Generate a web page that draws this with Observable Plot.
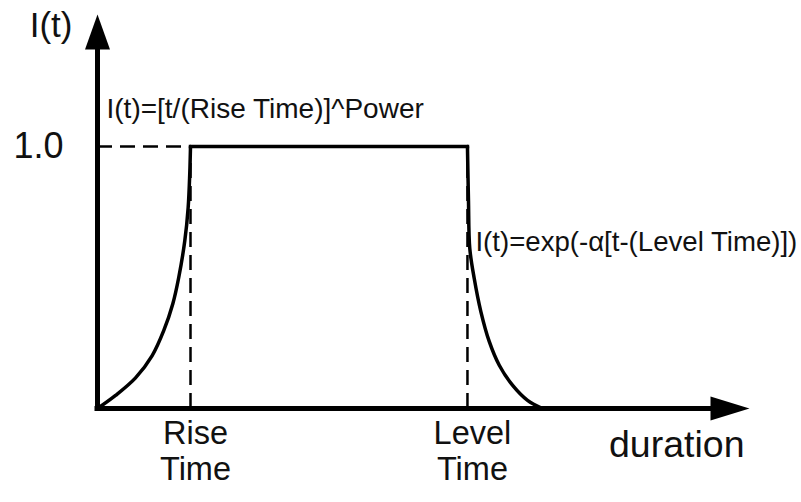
<!DOCTYPE html>
<html>
<head>
<meta charset="utf-8">
<script src="https://cdn.jsdelivr.net/npm/d3@7"></script>
<script src="https://cdn.jsdelivr.net/npm/@observablehq/plot@0.6"></script>
<style>
  html, body { margin: 0; padding: 0; background: #fff; }
  #chart svg { display: block; }
</style>
</head>
<body>
<div id="chart"></div>
<script>
// ---- Data ----
const riseTime = 1.0;
const levelTime = 3.978;

// rising segment: I(t) = [t/(Rise Time)]^Power (as drawn)
const riseT = [0, 0.194, 0.409, 0.588, 0.713, 0.810, 0.874, 0.939, 0.975, 0.992, 1.0];
const riseI = [0, 0.050, 0.117, 0.202, 0.298, 0.400, 0.501, 0.641, 0.768, 0.897, 1.0];

// level segment
const levelT = [1.0, 3.978];
const levelI = [1.0, 1.0];

// decay segment: I(t) = exp(-α[t-(Level Time)]) (as drawn)
const decayT = [3.978, 3.989, 4.003, 4.051, 4.122, 4.212, 4.320, 4.462, 4.624, 4.785];
const decayI = [1.0, 0.794, 0.611, 0.496, 0.370, 0.256, 0.165, 0.089, 0.031, 0];

// labels
const yTitle = ["I(t)"];
const xTitle = ["duration"];
const yTickValues = [1.0];
const yTickLabels = ["1.0"];
const xTickValues = [riseTime, levelTime];
const xTickLabels = ["Rise\nTime", "Level\nTime"];
const formulas = ["I(t)=[t/(Rise Time)]^Power", "I(t)=exp(-α[t-(Level Time)])"];

// domains
const xDomain = [0, 7];
const yDomain = [0, 1.5];

// ---- Build ----
const toRows = (T, I) => T.map((t, i) => ({t, I: I[i]}));
const rise = toRows(riseT, riseI);
const level = toRows(levelT, levelI);
const decay = toRows(decayT, decayI);

const arrowUp = {draw(ctx) { ctx.moveTo(0, -1); ctx.lineTo(-12.5, 34); ctx.lineTo(12.5, 34); ctx.closePath(); }};
const arrowRight = {draw(ctx) { ctx.moveTo(0, -1); ctx.lineTo(-12, 38); ctx.lineTo(12, 38); ctx.closePath(); }};

const ink = "#000";
const textInk = "#111";
const dash = {stroke: ink, strokeWidth: 2.5, strokeDasharray: "15,8"};
const profile = {x: "t", y: "I", stroke: ink, strokeWidth: 3.5};

const chart = Plot.plot({
  width: 801,
  height: 502,
  marginLeft: 97,
  marginRight: 53,
  marginTop: 15,
  marginBottom: 94,
  x: {domain: xDomain, axis: null},
  y: {domain: yDomain, axis: null},
  style: {fontFamily: "'Liberation Sans', Arial, sans-serif", background: "#fff", overflow: "visible", color: textInk},
  marks: [
    // dashed guides
    Plot.ruleY(yTickValues, {y: d => d, x1: 0, x2: riseTime, ...dash}),
    Plot.ruleX(xTickValues, {x: d => d, y1: 0, y2: 1.0, ...dash}),
    // the intensity profile
    Plot.line(rise, {...profile, curve: "catmull-rom"}),
    Plot.line(decay, {...profile, curve: "catmull-rom"}),
    Plot.line(level, {...profile, strokeLinecap: "square"}),
    // axes with arrowheads
    Plot.ruleX([0], {stroke: ink, strokeWidth: 5, insetTop: 26, strokeLinecap: "square"}),
    Plot.ruleY([0], {stroke: ink, strokeWidth: 5, insetRight: 30, strokeLinecap: "square"}),
    Plot.dot([0], {x: 0, y: yDomain[1], symbol: arrowUp, fill: ink, stroke: null}),
    Plot.dot([0], {x: xDomain[1], y: 0, symbol: arrowRight, fill: ink, stroke: null, rotate: 90}),
    // axis titles
    Plot.text(yTitle, {x: 0, y: yDomain[1], text: d => d, textAnchor: "end", lineAnchor: "top", dx: -25, dy: -3, fontSize: 35, fill: textInk}),
    Plot.text(xTitle, {x: xDomain[1], y: 0, text: d => d, textAnchor: "end", lineAnchor: "bottom", dx: -4, dy: 48, fontSize: 37.5, fill: textInk}),
    // tick labels
    Plot.text(yTickLabels, {x: 0, y: (d, i) => yTickValues[i], text: d => d, textAnchor: "end", dx: -34, fontSize: 36, fill: textInk}),
    Plot.text(xTickLabels, {x: (d, i) => xTickValues[i], y: 0, text: d => d, textAnchor: "middle", lineAnchor: "top", lineHeight: 1.13, dx: 5, dy: 9, fontSize: 32.5, fill: textInk}),
    // formulas
    Plot.text([formulas[0]], {x: 0, y: 1.0, text: d => d, textAnchor: "start", lineAnchor: "bottom", dx: 9, dy: -29, fontSize: 28, fill: textInk}),
    Plot.text([formulas[1]], {x: levelTime, y: 1.0, text: d => d, textAnchor: "start", lineAnchor: "bottom", dx: 8, dy: 104, fontSize: 27.6, fill: textInk})
  ]
});

document.getElementById("chart").appendChild(chart);
</script>
</body>
</html>
